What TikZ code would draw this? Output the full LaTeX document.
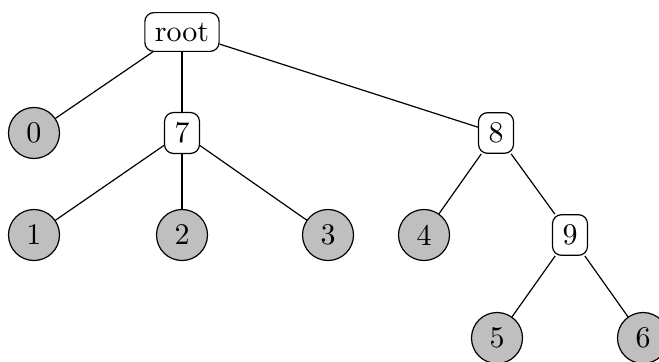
\documentclass[tikz,border=0pt]{standalone}
\begin{document}
\begin{tikzpicture}[x=0.3333pt,y=-0.3333pt,
  inner/.style={draw,rounded corners=3pt,inner sep=3.33pt,font=\fontsize{10}{12}\selectfont},
  leaf/.style={draw,circle,fill=gray!50,minimum size=17pt,inner sep=0pt},
  edge/.style={draw,line width=0.4pt}]
\useasboundingbox (0,0) rectangle (659,361);
\node[inner] (root) at (182,32) {root};
\node[leaf] (n0) at (34,133) {0};
\node[inner] (n7) at (182,133) {7};
\node[inner] (n8) at (496,133) {8};
\node[leaf] (n1) at (34,235) {1};
\node[leaf] (n2) at (182,235) {2};
\node[leaf] (n3) at (328,235) {3};
\node[leaf] (n4) at (424,235) {4};
\node[inner] (n9) at (570,235) {9};
\node[leaf] (n5) at (497,338) {5};
\node[leaf] (n6) at (643,338) {6};
\draw[edge] (root) -- (n0);
\draw[edge] (root) -- (n7);
\draw[edge] (root) -- (n8);
\draw[edge] (n7) -- (n1);
\draw[edge] (n7) -- (n2);
\draw[edge] (n7) -- (n3);
\draw[edge] (n8) -- (n4);
\draw[edge] (n8) -- (n9);
\draw[edge] (n9) -- (n5);
\draw[edge] (n9) -- (n6);
\end{tikzpicture}
\end{document}
